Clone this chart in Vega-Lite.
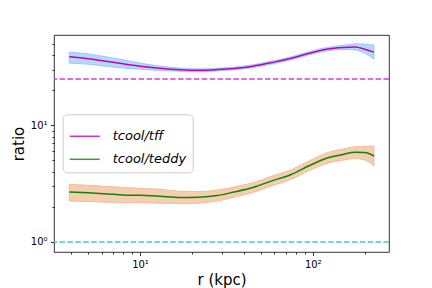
{
  "$schema": "https://vega.github.io/schema/vega-lite/v6.json",
  "width": 335,
  "height": 217,
  "autosize": "none",
  "padding": {"left": 54, "top": 35, "right": 43, "bottom": 36},
  "config": {
    "font": "DejaVu Sans",
    "view": {"stroke": "#000000", "strokeWidth": 0.8},
    "axis": {"grid": false, "domain": false, "tickColor": "#000000", "tickWidth": 0.8, "labelColor": "#000000", "labelFontSize": 10, "labelFont": "DejaVu Sans", "titleFont": "DejaVu Sans", "titleFontSize": 15, "titleFontWeight": "normal", "titleColor": "#000000", "labelPadding": 3.5}
  },
  "datasets": {
    "curves": [
      {"series": "tcool/tff", "r": 3.9, "y": 38.7, "lo": 34.2, "hi": 42.5},
      {"series": "tcool/tff", "r": 5, "y": 37.3, "lo": 33.5, "hi": 41.0},
      {"series": "tcool/tff", "r": 6.5, "y": 35.3, "lo": 32.0, "hi": 38.5},
      {"series": "tcool/tff", "r": 8, "y": 33.7, "lo": 31.0, "hi": 36.5},
      {"series": "tcool/tff", "r": 10, "y": 32.2, "lo": 30.3, "hi": 34.2},
      {"series": "tcool/tff", "r": 13, "y": 30.9, "lo": 29.6, "hi": 32.3},
      {"series": "tcool/tff", "r": 17, "y": 30.0, "lo": 29.1, "hi": 31.0},
      {"series": "tcool/tff", "r": 22, "y": 29.7, "lo": 28.9, "hi": 30.5},
      {"series": "tcool/tff", "r": 28, "y": 30.1, "lo": 29.3, "hi": 30.9},
      {"series": "tcool/tff", "r": 35, "y": 30.8, "lo": 30.0, "hi": 31.6},
      {"series": "tcool/tff", "r": 45, "y": 32.2, "lo": 31.3, "hi": 33.1},
      {"series": "tcool/tff", "r": 58, "y": 34.6, "lo": 33.6, "hi": 35.6},
      {"series": "tcool/tff", "r": 75, "y": 37.6, "lo": 36.5, "hi": 38.7},
      {"series": "tcool/tff", "r": 95, "y": 41.5, "lo": 40.2, "hi": 42.8},
      {"series": "tcool/tff", "r": 120, "y": 45.0, "lo": 43.5, "hi": 46.5},
      {"series": "tcool/tff", "r": 150, "y": 46.6, "lo": 44.8, "hi": 48.6},
      {"series": "tcool/tff", "r": 175, "y": 47.0, "lo": 44.3, "hi": 50.0},
      {"series": "tcool/tff", "r": 200, "y": 45.0, "lo": 41.5, "hi": 49.8},
      {"series": "tcool/tff", "r": 226, "y": 42.5, "lo": 37.0, "hi": 48.8},
      {"series": "tcool/teddy", "r": 3.9, "y": 2.68, "lo": 2.24, "hi": 3.12},
      {"series": "tcool/teddy", "r": 5, "y": 2.64, "lo": 2.22, "hi": 3.06},
      {"series": "tcool/teddy", "r": 6.5, "y": 2.58, "lo": 2.19, "hi": 2.99},
      {"series": "tcool/teddy", "r": 8, "y": 2.53, "lo": 2.17, "hi": 2.93},
      {"series": "tcool/teddy", "r": 10, "y": 2.51, "lo": 2.17, "hi": 2.88},
      {"series": "tcool/teddy", "r": 13, "y": 2.47, "lo": 2.15, "hi": 2.83},
      {"series": "tcool/teddy", "r": 17, "y": 2.40, "lo": 2.13, "hi": 2.72},
      {"series": "tcool/teddy", "r": 22, "y": 2.42, "lo": 2.15, "hi": 2.70},
      {"series": "tcool/teddy", "r": 28, "y": 2.50, "lo": 2.24, "hi": 2.78},
      {"series": "tcool/teddy", "r": 35, "y": 2.68, "lo": 2.42, "hi": 2.96},
      {"series": "tcool/teddy", "r": 45, "y": 2.93, "lo": 2.65, "hi": 3.22},
      {"series": "tcool/teddy", "r": 58, "y": 3.34, "lo": 3.03, "hi": 3.67},
      {"series": "tcool/teddy", "r": 75, "y": 3.79, "lo": 3.44, "hi": 4.16},
      {"series": "tcool/teddy", "r": 95, "y": 4.50, "lo": 4.08, "hi": 4.95},
      {"series": "tcool/teddy", "r": 120, "y": 5.22, "lo": 4.70, "hi": 5.80},
      {"series": "tcool/teddy", "r": 150, "y": 5.63, "lo": 5.03, "hi": 6.28},
      {"series": "tcool/teddy", "r": 175, "y": 5.88, "lo": 5.20, "hi": 6.55},
      {"series": "tcool/teddy", "r": 200, "y": 5.85, "lo": 5.05, "hi": 6.62},
      {"series": "tcool/teddy", "r": 226, "y": 5.46, "lo": 4.47, "hi": 6.64}
    ],
    "refs": [
      {"level": 25, "kind": "ff"},
      {"level": 1, "kind": "one"}
    ]
  },
  "encoding": {
    "x": {
      "type": "quantitative",
      "scale": {"type": "log", "domain": [3.18, 276], "nice": false},
      "axis": {
        "title": "r (kpc)",
        "values": [4, 5, 6, 7, 8, 9, 10, 20, 30, 40, 50, 60, 70, 80, 90, 100, 200],
        "labelExpr": "datum.value == 10 ? '10¹' : datum.value == 100 ? '10²' : ''",
        "tickSize": {"condition": {"test": "datum.value == 10 || datum.value == 100", "value": 3.5}, "value": 2},
        "titleX": 167.5,
        "titleY": 32,
        "titleBaseline": "alphabetic",
        "titleAnchor": "middle"
      }
    },
    "y": {
      "type": "quantitative",
      "scale": {"type": "log", "domain": [0.819, 59.6], "nice": false},
      "axis": {
        "title": "ratio",
        "values": [1, 2, 3, 4, 5, 6, 7, 8, 9, 10, 20, 30, 40, 50],
        "labelExpr": "datum.value == 1 ? '10⁰' : datum.value == 10 ? '10¹' : ''",
        "tickSize": {"condition": {"test": "datum.value == 1 || datum.value == 10", "value": 3.5}, "value": 2},
        "titleX": -30.7,
        "titleY": 108.5,
        "titleAngle": 270,
        "titleBaseline": "alphabetic",
        "titleAlign": "center"
      }
    }
  },
  "layer": [
    {
      "data": {"name": "curves"},
      "transform": [{"filter": "datum.series == 'tcool/tff'"}],
      "mark": {"type": "area", "interpolate": "monotone", "color": "#b4d8fa", "stroke": "#9ccaf5", "strokeWidth": 1},
      "encoding": {
        "x": {"field": "r"},
        "y": {"field": "lo"},
        "y2": {"field": "hi"}
      }
    },
    {
      "data": {"name": "curves"},
      "transform": [{"filter": "datum.series == 'tcool/teddy'"}],
      "mark": {"type": "area", "interpolate": "monotone", "color": "#f5cdaf", "stroke": "#f0bf9c", "strokeWidth": 1},
      "encoding": {
        "x": {"field": "r"},
        "y": {"field": "lo"},
        "y2": {"field": "hi"}
      }
    },
    {
      "data": {"name": "refs"},
      "mark": {"type": "rule", "strokeDash": [5.5, 2.4], "strokeWidth": 1.5},
      "encoding": {
        "y": {"field": "level"},
        "color": {"field": "kind", "type": "nominal", "scale": {"domain": ["ff", "one"], "range": ["#cc44cc", "#44cccc"]}, "legend": null}
      }
    },
    {
      "data": {"name": "curves"},
      "mark": {"type": "line", "interpolate": "monotone", "strokeWidth": 1.5},
      "encoding": {
        "x": {"field": "r"},
        "y": {"field": "y"},
        "stroke": {
          "field": "series",
          "type": "nominal",
          "scale": {"domain": ["tcool/tff", "tcool/teddy"], "range": ["#bf00bf", "#0f820f"]},
          "legend": {
            "title": null,
            "orient": "none",
            "legendX": 8.7,
            "legendY": 79.3,
            "symbolType": "stroke",
            "symbolSize": 900,
            "symbolStrokeWidth": 1.5,
            "symbolOpacity": 0.8,
            "labelFontSize": 13,
            "labelFontStyle": "italic",
            "labelFont": "DejaVu Sans",
            "labelColor": "#000000",
            "labelOffset": 12,
            "rowPadding": 0,
            "padding": 6,
            "strokeColor": "#cccccc",
            "fillColor": "#ffffff",
            "cornerRadius": 4
          }
        }
      }
    }
  ]
}
